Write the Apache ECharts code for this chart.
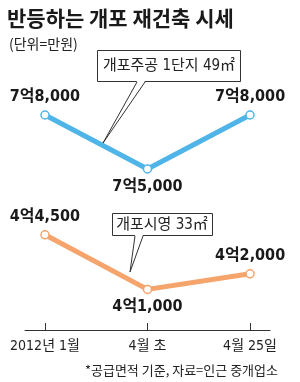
<!DOCTYPE html>
<html><head><meta charset="utf-8">
<script src="https://cdn.jsdelivr.net/npm/echarts@6/dist/echarts.min.js"></script>
<style>html,body{margin:0;padding:0;background:#fff}#c{width:300px;height:382px}</style>
</head><body><div id="c"></div>
<script>
// ---- data ----
var categories = ['2012년 1월', '4월 초', '4월 25일'];
var jugongValues = [78000, 75000, 78000];   // 개포주공 1단지 49㎡
var siyoungValues = [44500, 41000, 42000];  // 개포시영 33㎡
var seriesNames = ['개포주공 1단지 49㎡', '개포시영 33㎡'];
var titleText = '반등하는 개포 재건축 시세';
var unitText = '(단위=만원)';
var noteText = '*공급면적 기준, 자료=인근 중개업소';

// ---- helpers ----
function fmt(v) {
  var eok = Math.floor(v / 10000), man = v % 10000;
  var s = String(man).replace(/\B(?=(\d{3})+(?!\d))/g, ',');
  return eok + '억' + s;
}
function toPts(arr) { return arr.map(function (v, i) { return [i, v]; }); }
var labelPos = ['top', 'bottom', 'top'];
var narrow = '"Liberation Sans Narrow", "DejaVu Sans Condensed", "Noto Sans CJK KR", sans-serif';
var cjk = '"Noto Sans CJK KR", sans-serif';
var BLUE = '#4fb4e8', ORANGE = '#f5a46c';

function mkSeries(vals, color, xi, name) {
  return {
    type: 'line', name: name, xAxisIndex: xi, yAxisIndex: xi,
    data: toPts(vals).map(function (p, i) {
      return { value: p, label: { position: labelPos[i] } };
    }),
    lineStyle: { color: color, width: 5 },
    itemStyle: { color: '#fff', borderColor: color, borderWidth: 1.5 },
    symbol: 'circle', symbolSize: 8, showSymbol: true,
    label: { show: true, formatter: function (p) { return fmt(p.value[1]); },
      fontFamily: narrow, fontSize: 16, fontWeight: 'bold', color: '#1a1a1a', distance: 5 },
    z: 3
  };
}

var xBase = { type: 'value', min: -0.195, max: 2.195, splitLine: { show: false } };

var chart = echarts.init(document.getElementById('c'));
chart.setOption({
  animation: false,
  backgroundColor: '#fff',
  grid: [
    { left: 25, right: 30, top: 97, height: 90 },
    { left: 25, right: 30, top: 227, height: 78 }
  ],
  xAxis: [
    Object.assign({ gridIndex: 0, show: false }, xBase),
    Object.assign({ gridIndex: 1, offset: 25,
      axisLine: { show: true, lineStyle: { color: '#333', width: 1 } },
      axisTick: { show: true, inside: true, length: 7, customValues: [0, 1, 2], lineStyle: { color: '#333' } },
      axisLabel: { customValues: [0, 1, 2], margin: 9, fontFamily: narrow, fontSize: 14, color: '#222',
        formatter: function (v) { return categories[Math.round(v)]; } }
    }, xBase)
  ],
  yAxis: [
    { gridIndex: 0, type: 'value', min: 74000, max: 79000, show: false },
    { gridIndex: 1, type: 'value', min: 40000, max: 45000, show: false }
  ],
  series: [
    mkSeries(jugongValues, BLUE, 0, seriesNames[0]),
    mkSeries(siyoungValues, ORANGE, 1, seriesNames[1])
  ],
  graphic: [
    { type: 'text', left: 7, top: 8, style: { text: titleText, fontFamily: cjk, fontSize: 21, fontWeight: 'bold', fill: '#1a1a1a' } },
    { type: 'text', left: 9, top: 37, style: { text: unitText, fontFamily: cjk, fontSize: 14, fill: '#222' } },
    // callout 1
    { type: 'rect', shape: { x: 97.5, y: 50.5, width: 143, height: 31 }, style: { fill: '#fff', stroke: '#333', lineWidth: 1 }, z: 10 },
    { type: 'polygon', shape: { points: [[137, 81], [145, 81], [103, 143]] }, style: { fill: '#fff' }, z: 11 },
    { type: 'polyline', shape: { points: [[137, 82], [103, 143], [145, 82]] }, style: { stroke: '#333', lineWidth: 1, fill: null }, z: 12 },
    { type: 'text', x: 169, y: 66, style: { text: seriesNames[0], align: 'center', verticalAlign: 'middle', fontFamily: narrow, fontSize: 15, fill: '#222' }, z: 13 },
    // callout 2
    { type: 'rect', shape: { x: 112.5, y: 213.5, width: 100, height: 22 }, style: { fill: '#fff', stroke: '#333', lineWidth: 1 }, z: 10 },
    { type: 'polygon', shape: { points: [[135, 235], [143, 235], [130, 272]] }, style: { fill: '#fff' }, z: 11 },
    { type: 'polyline', shape: { points: [[135, 236], [130, 272], [143, 236]] }, style: { stroke: '#333', lineWidth: 1, fill: null }, z: 12 },
    { type: 'text', x: 162, y: 225, style: { text: seriesNames[1], align: 'center', verticalAlign: 'middle', fontFamily: narrow, fontSize: 15, fill: '#222' }, z: 13 },
    { type: 'text', right: 22, top: 364, style: { text: noteText, fontFamily: cjk, fontSize: 13, fill: '#222' } }
  ]
});
</script></body></html>
